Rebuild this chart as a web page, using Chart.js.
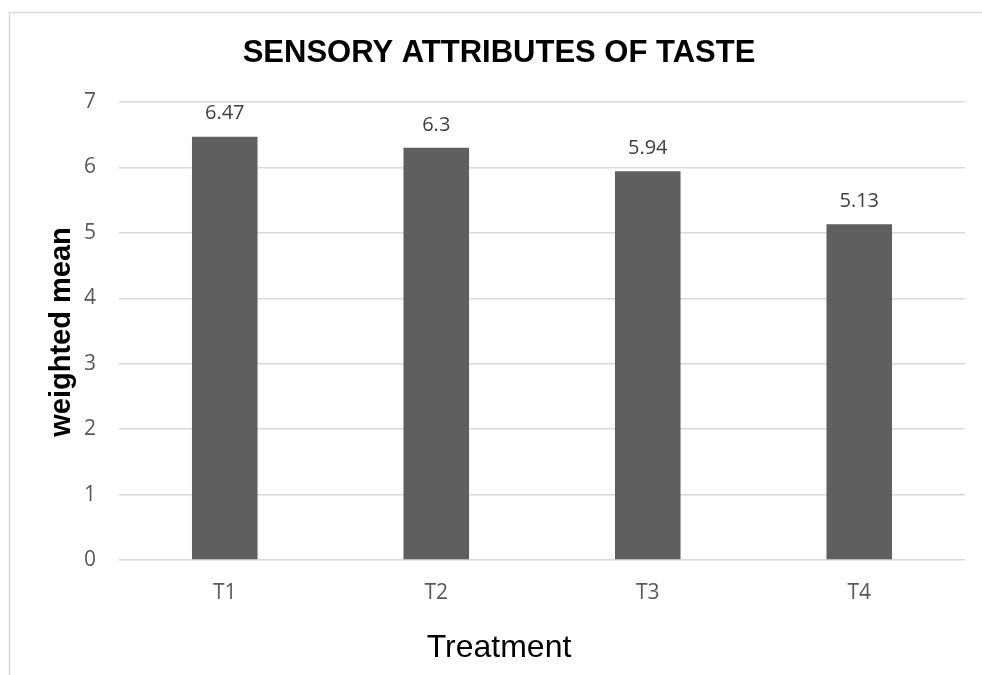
<!DOCTYPE html>
<html>
<head>
<meta charset="utf-8">
<script src="https://cdn.jsdelivr.net/npm/chart.js@4.4.1/dist/chart.umd.min.js"></script>
<style>
  html, body { margin: 0; padding: 0; background: #ffffff; }
  #wrap { position: relative; width: 982px; height: 675px; }
</style>
</head>
<body>
<div id="wrap"><canvas id="chart" width="982" height="675"></canvas></div>
<script>
// Sensory evaluation: weighted mean score for taste by treatment
const categories = ['T1', 'T2', 'T3', 'T4'];
const weightedMean = [6.47, 6.3, 5.94, 5.13];
const yTicks = [0, 1, 2, 3, 4, 5, 6, 7];

const chartTitle = 'SENSORY ATTRIBUTES OF TASTE';
const yTitle = 'weighted mean';
const xTitle = 'Treatment';

const TICK_FONT = '"Open Sans", "Noto Sans", sans-serif';
const ARIAL = '"Liberation Sans", Arial, sans-serif';

// Frame, titles and value labels drawn around the plot
const decorations = {
  id: 'decorations',
  beforeDraw(chart) {
    const ctx = chart.ctx;
    ctx.save();
    ctx.strokeStyle = '#d9d9d9';
    ctx.lineWidth = 1.5;
    ctx.beginPath();
    ctx.moveTo(9.5, chart.height);
    ctx.lineTo(9.5, 12.5);
    ctx.lineTo(chart.width, 12.5);
    ctx.stroke();
    ctx.restore();
  },
  afterDatasetsDraw(chart) {
    const ctx = chart.ctx;
    ctx.save();
    // chart title
    ctx.fillStyle = '#000000';
    ctx.textAlign = 'center';
    ctx.textBaseline = 'middle';
    ctx.font = 'bold 31px ' + ARIAL;
    ctx.fillText(chartTitle, 499, 53);
    // x axis title
    ctx.font = '32px ' + ARIAL;
    ctx.fillText(xTitle, 499, 648);
    // y axis title
    ctx.save();
    ctx.translate(62, 332);
    ctx.rotate(-Math.PI / 2);
    ctx.font = 'bold 29px ' + ARIAL;
    ctx.fillText(yTitle, 0, 0);
    ctx.restore();
    // value labels above bars
    const meta = chart.getDatasetMeta(0);
    ctx.fillStyle = '#404040';
    ctx.font = '20px ' + TICK_FONT;
    meta.data.forEach((bar, i) => {
      ctx.fillText(String(weightedMean[i]), bar.x, bar.y - 23);
    });
    ctx.restore();
  }
};

new Chart(document.getElementById('chart'), {
  type: 'bar',
  data: {
    labels: categories,
    datasets: [{
      data: weightedMean,
      backgroundColor: '#5f5f5f',
      borderWidth: 0,
      barPercentage: 1,
      categoryPercentage: 0.31
    }]
  },
  options: {
    responsive: false,
    animation: false,
    layout: { padding: { top: 102, right: 17, left: 0, bottom: 0 } },
    plugins: {
      legend: { display: false },
      title: { display: false },
      tooltip: { enabled: false }
    },
    scales: {
      x: {
        grid: { display: false },
        border: { display: false },
        ticks: { color: '#595959', font: { family: TICK_FONT, size: 21 }, padding: 12 },
        afterFit(scale) { scale.height = 115; }
      },
      y: {
        min: 0,
        max: 7,
        afterBuildTicks(scale) { scale.ticks = yTicks.map(v => ({ value: v })); },
        grid: { color: '#d9d9d9', lineWidth: 1.5, drawTicks: false },
        border: { display: false },
        ticks: { color: '#595959', font: { family: TICK_FONT, size: 21 }, padding: 23 },
        afterFit(scale) { scale.width = 119; }
      }
    }
  },
  plugins: [decorations]
});
</script>
</body>
</html>
